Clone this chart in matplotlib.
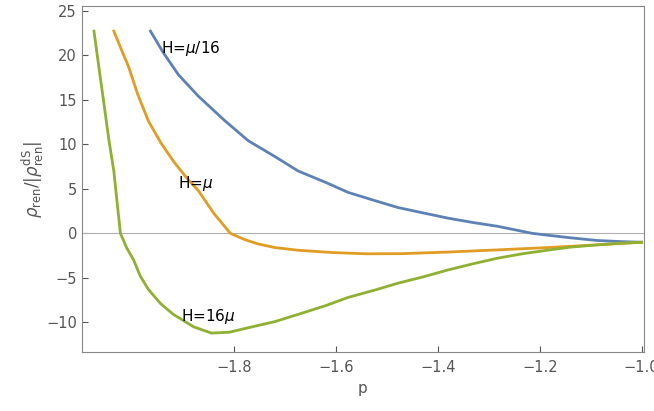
import matplotlib
matplotlib.use("Agg")
import matplotlib.pyplot as plt

p_blue = [-1.965, -1.94, -1.91, -1.871, -1.82, -1.773, -1.72, -1.675, -1.62, -1.577, -1.52, -1.479, -1.43, -1.38, -1.33, -1.284, -1.215, -1.186, -1.14, -1.088, -1.04, -1.0]
y_blue = [22.7, 20.3, 17.8, 15.4, 12.7, 10.4, 8.6, 7.0, 5.7, 4.6, 3.6, 2.9, 2.3, 1.7, 1.2, 0.8, 0.0, -0.2, -0.5, -0.8, -0.93, -1.0]
p_orange = [-2.037, -2.022, -2.008, -1.99, -1.969, -1.945, -1.92, -1.895, -1.871, -1.84, -1.808, -1.78, -1.753, -1.72, -1.675, -1.61, -1.54, -1.47, -1.38, -1.28, -1.186, -1.09, -1.0]
y_orange = [22.7, 20.6, 18.7, 15.6, 12.6, 10.2, 8.1, 6.3, 4.8, 2.2, 0.0, -0.7, -1.2, -1.6, -1.9, -2.15, -2.3, -2.28, -2.1, -1.85, -1.6, -1.3, -1.0]
p_green = [-2.076, -2.066, -2.057, -2.047, -2.037, -2.03, -2.024, -2.012, -1.998, -1.985, -1.969, -1.945, -1.92, -1.88, -1.845, -1.81, -1.773, -1.72, -1.675, -1.62, -1.577, -1.52, -1.479, -1.43, -1.38, -1.33, -1.284, -1.235, -1.186, -1.14, -1.088, -1.04, -1.0]
y_green = [22.7, 18.5, 14.8, 10.6, 7.0, 3.2, 0.0, -1.6, -3.0, -4.8, -6.3, -7.9, -9.1, -10.5, -11.2, -11.1, -10.6, -9.9, -9.1, -8.1, -7.2, -6.3, -5.6, -4.9, -4.1, -3.4, -2.8, -2.3, -1.9, -1.55, -1.3, -1.1, -1.0]

fig, ax = plt.subplots(figsize=(6.54, 4.11), dpi=100)
fig.subplots_adjust(left=0.125, right=0.985, bottom=0.144, top=0.985)
ax.axhline(0, color="#b0b0b0", lw=0.8)
ax.plot(p_blue, y_blue, color="#5E81B5", lw=2)
ax.plot(p_orange, y_orange, color="#E19C24", lw=2)
ax.plot(p_green, y_green, color="#8FB032", lw=2)
ax.text(-1.945, 20.8, r"H=$\mu$/16", fontsize=11, va="center")
ax.text(-1.91, 5.6, r"H=$\mu$", fontsize=11, va="center")
ax.text(-1.905, -9.3, r"H=16$\mu$", fontsize=11, va="center")
ax.set_xlim(-2.1, -0.995)
ax.set_ylim(-13.3, 25.5)
ax.set_xticks([-1.8, -1.6, -1.4, -1.2, -1.0])
ax.set_xticklabels(["−1.8", "−1.6", "−1.4", "−1.2", "−1.0"])
ax.set_yticks([-10, -5, 0, 5, 10, 15, 20, 25])
ax.set_yticklabels(["−10", "−5", "0", "5", "10", "15", "20", "25"])
ax.set_xlabel("p", color="#555555", fontsize=11)
ax.set_ylabel(r"$\rho_{\rm ren}/|\rho^{\rm dS}_{\rm ren}|$", color="#555555", fontsize=12, labelpad=0)
for s in ax.spines.values():
    s.set_color("#888888")
ax.tick_params(colors="#555555", labelsize=10.5, direction="in", length=4)
ax.tick_params(axis="x", pad=6)
fig.savefig("out.png")
